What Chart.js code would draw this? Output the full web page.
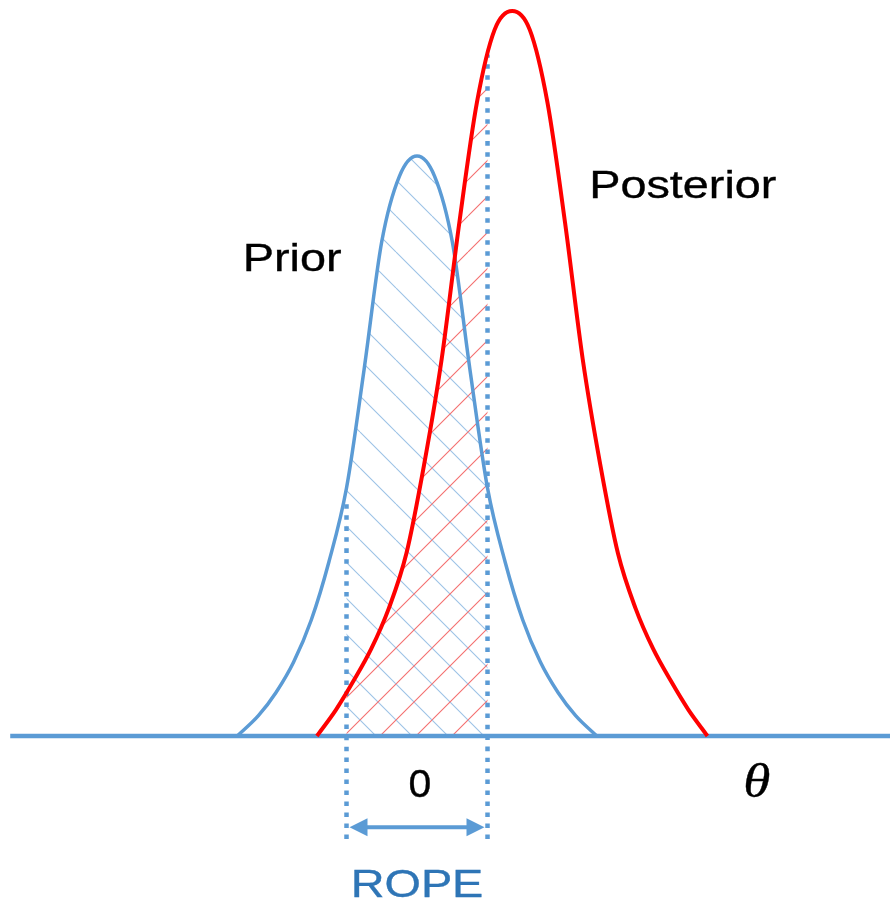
<!DOCTYPE html>
<html>
<head>
<meta charset="utf-8">
<title>Prior, posterior and ROPE</title>
<script src="https://cdn.jsdelivr.net/npm/chart.js@4.4.1/dist/chart.umd.min.js"></script>
<style>
  html, body { margin: 0; padding: 0; background: #fff; }
  #wrap { width: 890px; height: 905px; }
</style>
</head>
<body>
<div id="wrap"><canvas id="chart"></canvas></div>
<script>
// region of practical equivalence around theta = 0
const rope = [-1, 1];

// prior density
const priorTheta = [-2.55, -2.25, -2.0, -1.75, -1.5, -1.25, -1.0, -0.75, -0.5, -0.25, 0,
  0.25, 0.5, 0.75, 1.0, 1.25, 1.5, 1.75, 2.0, 2.25, 2.55];
const priorDensity = [0, 0.014, 0.030, 0.051, 0.080, 0.120, 0.171, 0.253, 0.341, 0.386, 0.400,
  0.386, 0.341, 0.253, 0.171, 0.120, 0.080, 0.051, 0.030, 0.014, 0];

// posterior density
const postTheta = [-1.42, -1.15, -0.90, -0.65, -0.40, -0.15, 0.10, 0.35, 0.60, 0.85, 1.10, 1.35,
  1.60, 1.85, 2.10, 2.35, 2.60, 2.85, 3.10, 3.35, 3.60, 3.85, 4.12];
const postDensity = [0, 0.018, 0.038, 0.060, 0.088, 0.126, 0.187, 0.260, 0.354, 0.437, 0.487, 0.500,
  0.487, 0.437, 0.354, 0.260, 0.187, 0.126, 0.088, 0.060, 0.038, 0.018, 0];

// how high the dotted ROPE markers reach, and where the arrow sits
const ropeTop = [0.163, 0.470];
const ropeBottom = -0.071;
const arrowLevel = -0.063;

// axis extent (axes themselves are hidden)
const thetaRange = [-5.915, 6.709];
const densityRange = [-0.1166, 0.5076];
const axisStart = -5.77;

const BLUE = '#5B9BD5';
const RED = '#FF0000';
const SANS = '39px "Liberation Sans", Arial, sans-serif';

const notes = [
  { text: 'Prior', x: -1.77, y: 0.321, font: SANS, color: '#000', wide: 1.2 },
  { text: 'Posterior', x: 3.77, y: 0.371, font: SANS, color: '#000', wide: 1.2 },
  { text: '0', x: 0.04, y: -0.042, font: SANS, color: '#000', wide: 1.05 },
  { text: 'θ', x: 4.82, y: -0.042, font: 'italic 48px "Liberation Serif", "DejaVu Serif", serif', color: '#000', wide: 1.15 },
  { text: 'ROPE', x: 0, y: -0.111, font: SANS, color: '#2E75B6', wide: 1.2 }
];

function points(xs, ys) {
  return xs.map((v, i) => ({ x: v, y: ys[i] }));
}

function hatch(ctx, color, rising) {
  const s = 36;
  const c = document.createElement('canvas');
  c.width = s;
  c.height = s;
  const g = c.getContext('2d');
  g.strokeStyle = color;
  g.lineWidth = 1.1;
  g.beginPath();
  for (const o of [-s, 0, s]) {
    if (rising) {
      g.moveTo(o, s);
      g.lineTo(o + s, 0);
    } else {
      g.moveTo(o, 0);
      g.lineTo(o + s, s);
    }
  }
  g.stroke();
  return ctx.createPattern(c, 'repeat');
}

function wideText(ctx, note, px, py) {
  ctx.save();
  ctx.font = note.font;
  ctx.fillStyle = note.color;
  ctx.strokeStyle = note.color;
  ctx.lineWidth = 0.35;
  ctx.textAlign = 'center';
  ctx.textBaseline = 'alphabetic';
  ctx.translate(px, py);
  ctx.scale(note.wide, 1);
  ctx.fillText(note.text, 0, 0);
  ctx.strokeText(note.text, 0, 0);
  ctx.restore();
}

const ropePlugin = {
  id: 'ropePlugin',
  beforeDatasetsDraw(chart) {
    const { ctx, chartArea, scales: { x, y } } = chart;
    const left = x.getPixelForValue(rope[0]);
    const right = x.getPixelForValue(rope[1]);
    const base = y.getPixelForValue(0);
    const fills = [
      ['Prior', hatch(ctx, '#9DC3E6', false)],
      ['Posterior', hatch(ctx, '#F47070', true)]
    ];
    fills.forEach(([label, pattern]) => {
      const idx = chart.data.datasets.findIndex(d => d.label === label);
      const line = chart.getDatasetMeta(idx).dataset;
      const pts = line.points;
      line.updateControlPoints(chartArea, 'x');
      ctx.save();
      ctx.beginPath();
      ctx.rect(left, chartArea.top, right - left, base - chartArea.top);
      ctx.clip();
      ctx.beginPath();
      line.path(ctx);
      ctx.lineTo(pts[pts.length - 1].x, base);
      ctx.lineTo(pts[0].x, base);
      ctx.closePath();
      ctx.fillStyle = pattern;
      ctx.fill();
      ctx.restore();
    });
  },
  afterDatasetsDraw(chart) {
    const { ctx, scales: { x, y } } = chart;
    const left = x.getPixelForValue(rope[0]);
    const right = x.getPixelForValue(rope[1]);
    const ay = y.getPixelForValue(arrowLevel);

    // double headed arrow spanning the ROPE
    ctx.save();
    ctx.strokeStyle = BLUE;
    ctx.fillStyle = BLUE;
    ctx.lineWidth = 4;
    ctx.beginPath();
    ctx.moveTo(left + 12, ay);
    ctx.lineTo(right - 12, ay);
    ctx.stroke();
    [[left + 3, 1], [right - 3, -1]].forEach(([tip, dir]) => {
      ctx.beginPath();
      ctx.moveTo(tip, ay);
      ctx.lineTo(tip + dir * 18, ay - 9);
      ctx.lineTo(tip + dir * 18, ay + 9);
      ctx.closePath();
      ctx.fill();
    });
    ctx.restore();

    notes.forEach(n => wideText(ctx, n, x.getPixelForValue(n.x), y.getPixelForValue(n.y)));
  }
};

const ctx = document.getElementById('chart').getContext('2d');

new Chart(ctx, {
  type: 'scatter',
  data: {
    datasets: [
      {
        label: 'Prior',
        data: points(priorTheta, priorDensity),
        borderColor: BLUE,
        borderWidth: 3.5,
        order: 3
      },
      {
        label: 'Posterior',
        data: points(postTheta, postDensity),
        borderColor: RED,
        borderWidth: 4,
        order: 0
      },
      {
        label: 'theta axis',
        data: points([axisStart, thetaRange[1]], [0, 0]),
        borderColor: BLUE,
        borderWidth: 4.5,
        order: 4
      },
      {
        label: 'ROPE lower',
        data: points([rope[0], rope[0]], [ropeBottom, ropeTop[0]]),
        borderColor: BLUE,
        borderWidth: 4.5,
        borderDash: [4.5, 6.5],
        order: 1
      },
      {
        label: 'ROPE upper',
        data: points([rope[1], rope[1]], [ropeBottom, ropeTop[1]]),
        borderColor: BLUE,
        borderWidth: 4.5,
        borderDash: [4.5, 6.5],
        order: 1
      }
    ]
  },
  options: {
    responsive: true,
    maintainAspectRatio: false,
    animation: false,
    showLine: true,
    layout: { padding: 0 },
    elements: {
      point: { radius: 0, hoverRadius: 0 },
      line: { cubicInterpolationMode: 'monotone', fill: false }
    },
    scales: {
      x: { type: 'linear', display: false, min: thetaRange[0], max: thetaRange[1] },
      y: { type: 'linear', display: false, min: densityRange[0], max: densityRange[1] }
    },
    plugins: {
      legend: { display: false },
      tooltip: { enabled: false }
    }
  },
  plugins: [ropePlugin]
});
</script>
</body>
</html>
